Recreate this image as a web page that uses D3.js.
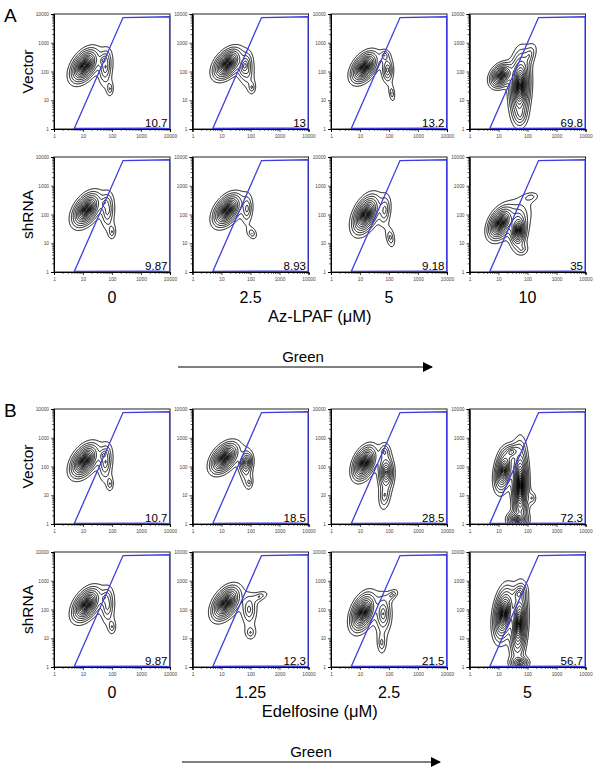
<!DOCTYPE html>
<html>
<head>
<meta charset="utf-8">
<script src="https://cdn.jsdelivr.net/npm/d3@7"></script>
<style>
  body { margin: 0; background: #fff; }
  svg { font-family: Arial, "Liberation Sans", Helvetica, sans-serif; }
</style>
</head>
<body>
<div id="chart"></div>
<script>
// axis decades (both axes are log, 1 - 10000)
var tickValues = [1, 10, 100, 1000, 10000];
var tickLabels = ["1", "10", "100", "1000", "10000"];

var rowNames = ["Vector", "shRNA"];
var doseA = ["0", "2.5", "5", "10"];
var doseB = ["0", "1.25", "2.5", "5"];

// percent in gate, bottom right of every plot
var pctAVector = ["10.7", "13", "13.2", "69.8"];
var pctAshRNA = ["9.87", "8.93", "9.18", "35"];
var pctBVector = ["10.7", "18.5", "28.5", "72.3"];
var pctBshRNA = ["9.87", "12.3", "21.5", "56.7"];

// gate vertices (green, y)
var gateX = [5, 240, 9700, 9700, 3500];
var gateY = [1.04, 7500, 8000, 1.02, 1.08];

// populations:
// [log10 green centre, log10 y centre, sd x, sd y, corr, weight]
var popsCtrlVector = [[1.05, 2.2, 0.19, 0.23, 0.45, 1], [1.78, 2.15, 0.14, 0.36, 0.2, 0.12], [1.7, 2.4, 0.09, 0.13, 0.3, 0.1], [1.93, 1.4, 0.09, 0.19, 0, 0.05]];
var popsCtrlshRNA = [[1.12, 2.17, 0.19, 0.23, 0.45, 1], [1.85, 2.15, 0.14, 0.36, 0.1, 0.11], [1.75, 2.4, 0.09, 0.13, 0.3, 0.08], [2.0, 1.4, 0.1, 0.19, 0, 0.05]];

var popsA25Vector = [[1.2, 2.27, 0.19, 0.21, 0.45, 1], [1.8, 2.2, 0.11, 0.21, 0.3, 0.18], [1.9, 2.0, 0.16, 0.38, 0, 0.06], [2.05, 1.45, 0.09, 0.16, 0, 0.05]];
var popsA5Vector = [[1.15, 2.15, 0.18, 0.21, 0.45, 1], [1.95, 2.05, 0.11, 0.24, 0, 0.15], [1.85, 2.55, 0.11, 0.13, 0, 0.07], [2.1, 1.25, 0.08, 0.22, -0.3, 0.05]];
var popsA10Vector = [[1.1, 1.86, 0.16, 0.17, 0.3, 0.8], [1.74, 1.5, 0.14, 0.45, 0.1, 1], [2.05, 2.55, 0.17, 0.27, 0.5, 0.07], [1.75, 0.5, 0.13, 0.22, 0, 0.09]];
var popsA25shRNA = [[1.2, 2.15, 0.19, 0.22, 0.45, 1], [1.88, 2.2, 0.12, 0.3, 0.1, 0.1], [2.05, 1.35, 0.13, 0.16, -0.3, 0.05]];
var popsA5shRNA = [[1.2, 2.0, 0.18, 0.26, 0.45, 1], [1.85, 2.15, 0.13, 0.32, 0.2, 0.1], [2.05, 1.2, 0.11, 0.24, -0.3, 0.06]];
var popsA10shRNA = [[1.07, 1.7, 0.17, 0.22, 0.4, 1], [1.68, 1.45, 0.11, 0.22, 0.1, 0.8], [1.65, 1.9, 0.35, 0.45, 0.3, 0.06], [2.1, 2.6, 0.2, 0.12, 0.3, 0.04], [1.8, 0.8, 0.16, 0.16, 0, 0.05]];

var popsB125Vector = [[1.1, 2.3, 0.19, 0.21, 0.45, 1], [1.85, 2.15, 0.1, 0.15, 0.2, 0.3], [1.85, 2.0, 0.14, 0.38, 0, 0.08], [1.95, 1.45, 0.09, 0.16, 0, 0.05]];
var popsB25Vector = [[1.15, 2.12, 0.16, 0.23, 0.4, 1], [1.9, 1.8, 0.12, 0.26, 0, 0.4], [1.85, 1.0, 0.13, 0.32, 0.2, 0.08], [1.85, 2.5, 0.12, 0.2, 0, 0.08]];
var popsB5Vector = [[1.17, 1.85, 0.13, 0.3, 0.3, 0.7], [1.75, 1.35, 0.11, 0.55, 0, 1], [1.65, 0.15, 0.15, 0.12, 0, 0.5], [1.45, 2.5, 0.15, 0.14, 0.3, 0.2], [2.15, 0.9, 0.11, 0.16, 0, 0.05]];
var popsB125shRNA = [[1.15, 2.22, 0.19, 0.23, 0.45, 1], [1.95, 2.0, 0.16, 0.32, 0, 0.1], [2.3, 2.45, 0.22, 0.14, 0.5, 0.05], [2.0, 1.2, 0.14, 0.18, 0, 0.05]];
var popsB25shRNA = [[1.1, 1.9, 0.17, 0.26, 0.4, 1], [1.8, 1.85, 0.15, 0.35, 0, 0.18], [2.1, 2.5, 0.15, 0.14, 0.5, 0.06], [1.75, 0.85, 0.11, 0.27, 0, 0.06]];
var popsB5shRNA = [[1.18, 1.85, 0.14, 0.36, 0.3, 1], [1.7, 1.5, 0.12, 0.5, 0.2, 0.8], [1.72, 0.15, 0.15, 0.1, 0, 0.3], [1.7, 2.55, 0.13, 0.15, 0.3, 0.15]];

// contour levels as fraction of peak density
var levels = [0.015, 0.03, 0.05, 0.08, 0.12, 0.17, 0.23, 0.3, 0.37, 0.44, 0.51, 0.58, 0.65, 0.72, 0.79, 0.86, 0.93];
// sharpness of each population's peak
var peakShape = 1.25;

var panels = [
  { letter: "A", top: 14, doses: doseA, title: "Az-LPAF (\u03bcM)",
    rows: [
      { pops: [popsCtrlVector, popsA25Vector, popsA5Vector, popsA10Vector], pct: pctAVector },
      { pops: [popsCtrlshRNA, popsA25shRNA, popsA5shRNA, popsA10shRNA], pct: pctAshRNA }
    ] },
  { letter: "B", top: 409, doses: doseB, title: "Edelfosine (\u03bcM)",
    rows: [
      { pops: [popsCtrlVector, popsB125Vector, popsB25Vector, popsB5Vector], pct: pctBVector },
      { pops: [popsCtrlshRNA, popsB125shRNA, popsB25shRNA, popsB5shRNA], pct: pctBshRNA }
    ] }
];

var W = 602, H = 772;
var colLeft = [54, 192.5, 331, 469.5];
var pw = 116, ph = 115, rowGap = 143;
var N = 180;

var minorTicks = [];
[1, 10, 100, 1000].forEach(function(d) {
  for (var k = 2; k <= 9; k++) minorTicks.push(d * k);
});

var svg = d3.select("#chart").append("svg")
  .attr("width", W)
  .attr("height", H);

var blue = "#3d3de0";

svg.append("defs").append("marker")
  .attr("id", "arrow")
  .attr("viewBox", "0 0 10 10")
  .attr("refX", 9).attr("refY", 5)
  .attr("markerWidth", 10).attr("markerHeight", 10)
  .attr("markerUnits", "userSpaceOnUse")
  .attr("orient", "auto")
  .append("path")
  .attr("d", "M0,0 L10,5 L0,10 z")
  .attr("fill", "#000");

function density(pops) {
  var vals = new Float64Array(N * N);
  for (var j = 0; j < N; j++) {
    for (var i = 0; i < N; i++) {
      var lx = (i + 0.5) * 4 / N, ly = (j + 0.5) * 4 / N, s = 0;
      pops.forEach(function(p) {
        var dx = (lx - p[0]) / p[2], dy = (ly - p[1]) / p[3], r = p[4];
        var q = (dx * dx - 2 * r * dx * dy + dy * dy) / (1 - r * r);
        s += p[5] * Math.exp(-Math.pow(q, peakShape / 2));
      });
      vals[j * N + i] = s;
    }
  }
  return vals;
}

function drawPlot(g, pops, pct) {
  var x = d3.scaleLog().domain([1, 10000]).range([0, pw]);
  var y = d3.scaleLog().domain([1, 10000]).range([ph, 0]);

  //contours of the population density
  var vals = density(pops);
  var peak = d3.max(vals);
  var contours = d3.contours().size([N, N])
    .thresholds(levels.map(function(f) { return f * peak; }))(vals);
  var proj = d3.geoTransform({
    point: function(px, py) {
      this.stream.point(x(Math.pow(10, px * 4 / N)), y(Math.pow(10, py * 4 / N)));
    }
  });
  g.append("g")
    .selectAll("path")
    .data(contours)
    .enter()
    .append("path")
    .attr("d", d3.geoPath(proj))
    .attr("fill", "none")
    .attr("stroke", "#000")
    .attr("stroke-width", 0.95);

  //frame
  g.append("rect")
    .attr("width", pw).attr("height", ph)
    .attr("fill", "none")
    .attr("stroke", "#222")
    .attr("stroke-width", 1);

  //gate
  var gate = d3.line()
    .x(function(d) { return x(d[0]); })
    .y(function(d) { return y(d[1]); });
  g.append("path")
    .datum(gateX.map(function(v, i) { return [v, gateY[i]]; }))
    .attr("d", gate.curve(d3.curveLinearClosed))
    .attr("fill", "none")
    .attr("stroke", blue)
    .attr("stroke-width", 1.3);

  //axes
  var fmt = function(d) { return tickLabels[tickValues.indexOf(d)]; };
  var ax = g.append("g").attr("transform", "translate(0," + ph + ")")
    .call(d3.axisBottom(x).tickValues(tickValues).tickFormat(fmt).tickSize(3).tickPadding(2));
  g.append("g").attr("transform", "translate(0," + ph + ")")
    .call(d3.axisBottom(x).tickValues(minorTicks).tickFormat("").tickSize(1.8));
  g.append("g")
    .call(d3.axisLeft(y).tickValues(tickValues).tickFormat(fmt).tickSize(3).tickPadding(2));
  g.append("g")
    .call(d3.axisLeft(y).tickValues(minorTicks).tickFormat("").tickSize(1.8));
  g.selectAll(".domain").attr("stroke", "#000");
  g.selectAll(".tick line").attr("stroke", "#000").attr("stroke-width", 0.7);
  g.selectAll(".tick text").style("font-size", "4.8px").attr("fill", "#444");
  ax.selectAll(".tick text").attr("dy", "0.9em");

  //percent in gate
  g.append("text")
    .attr("x", pw - 2.5)
    .attr("y", ph - 1.8)
    .attr("text-anchor", "end")
    .style("font-size", "11.5px")
    .attr("fill", "#000")
    .text(pct);
}

panels.forEach(function(panel) {
  svg.append("text")
    .attr("x", 4)
    .attr("y", panel.top + 8)
    .style("font-size", "19px")
    .text(panel.letter);

  panel.rows.forEach(function(row, r) {
    var top = panel.top + r * rowGap;
    svg.append("text")
      .attr("transform", "translate(27," + (top + ph / 2) + ") rotate(-90)")
      .attr("text-anchor", "middle")
      .attr("dominant-baseline", "central")
      .style("font-size", "15.5px")
      .text(rowNames[r]);
    row.pops.forEach(function(pops, c) {
      var g = svg.append("g").attr("transform", "translate(" + colLeft[c] + "," + top + ")");
      drawPlot(g, pops, row.pct[c]);
    });
  });

  var base = panel.top + rowGap + ph;
  panel.doses.forEach(function(d, c) {
    svg.append("text")
      .attr("x", colLeft[c] + pw / 2)
      .attr("y", base + 31)
      .attr("text-anchor", "middle")
      .style("font-size", "16px")
      .text(d);
  });
  svg.append("text")
    .attr("x", (colLeft[1] + colLeft[2]) / 2 + pw / 2)
    .attr("y", base + 50)
    .attr("text-anchor", "middle")
    .style("font-size", "16.5px")
    .text(panel.title);

  svg.append("text")
    .attr("x", panel.letter === "A" ? 303 : 311)
    .attr("y", base + 90)
    .attr("text-anchor", "middle")
    .style("font-size", "15px")
    .text("Green");
  svg.append("line")
    .attr("x1", panel.letter === "A" ? 178 : 182)
    .attr("x2", panel.letter === "A" ? 432 : 440)
    .attr("y1", base + 95)
    .attr("y2", base + 95)
    .attr("stroke", "#000")
    .attr("stroke-width", 1)
    .attr("marker-end", "url(#arrow)");
});
</script>
</body>
</html>
